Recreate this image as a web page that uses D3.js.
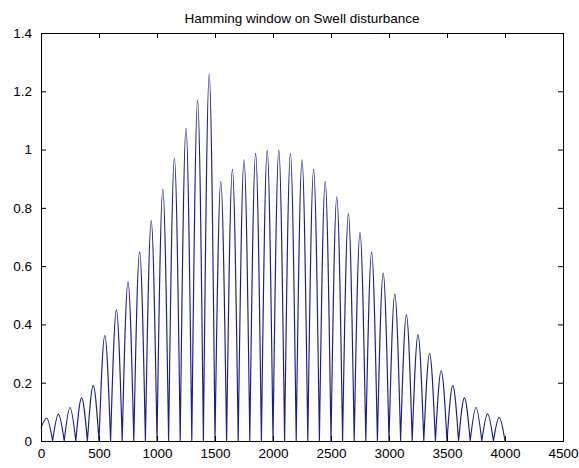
<!DOCTYPE html>
<html>
<head>
<meta charset="utf-8">
<script src="https://cdn.jsdelivr.net/npm/d3@7"></script>
<style>
  html, body { margin: 0; padding: 0; background: #ffffff; }
  svg { display: block; }
  text { font-family: "Liberation Sans", Arial, sans-serif; fill: #000; }
</style>
</head>
<body>
<svg id="chart" width="579" height="468"></svg>
<script>
// ---- data ----
const titleText = "Hamming window on Swell disturbance";
const xTicks = [0, 500, 1000, 1500, 2000, 2500, 3000, 3500, 4000, 4500];
const yTicks = [0, 0.2, 0.4, 0.6, 0.8, 1, 1.2, 1.4];
const xTickLabels = ["0", "500", "1000", "1500", "2000", "2500", "3000", "3500", "4000", "4500"];
const yTickLabels = ["0", "0.2", "0.4", "0.6", "0.8", "1", "1.2", "1.4"];

// value of the signal at sample 0
const startValue = 0.045;
// sample positions where the rectified signal touches zero (end of each arch)
const zeroPositions = [100, 200, 300, 400, 500, 600, 700, 800, 900, 1000,
  1100, 1200, 1300, 1400, 1500, 1600, 1700, 1800, 1900, 2000,
  2100, 2200, 2300, 2400, 2500, 2600, 2700, 2800, 2900, 3000,
  3100, 3200, 3300, 3400, 3500, 3600, 3700, 3800, 3900, 4000];
// sample positions of each arch top
const peakPositions = [50, 150, 250, 350, 450, 550, 650, 750, 850, 950,
  1050, 1150, 1250, 1350, 1450, 1550, 1650, 1750, 1850, 1950,
  2050, 2150, 2250, 2350, 2450, 2550, 2650, 2750, 2850, 2950,
  3050, 3150, 3250, 3350, 3450, 3550, 3650, 3750, 3850, 3950];
// height of each arch top
const peakValues = [0.078, 0.092, 0.115, 0.148, 0.190, 0.362, 0.450, 0.546, 0.649, 0.756,
  0.864, 0.971, 1.074, 1.170, 1.258, 0.890, 0.932, 0.965, 0.987, 0.998,
  0.998, 0.987, 0.965, 0.932, 0.890, 0.839, 0.780, 0.716, 0.648, 0.576,
  0.504, 0.433, 0.364, 0.300, 0.241, 0.190, 0.148, 0.115, 0.093, 0.081];

// ---- layout ----
const W = 579, H = 468;
const plot = { left: 41, right: 563, top: 33, bottom: 441 };

const svg = d3.select("#chart");

const x = d3.scaleLinear().domain([0, 4500]).range([plot.left, plot.right]);
const y = d3.scaleLinear().domain([0, 1.4]).range([plot.bottom, plot.top]);

// build arches from the arrays
const arches = peakPositions.map((px, i) => {
  const x0 = i === 0 ? 0 : zeroPositions[i - 1];
  const y0 = i === 0 ? startValue : 0;
  return [[x0, y0], [px, peakValues[i]], [zeroPositions[i], 0]];
});

const line = d3.line()
  .x(d => x(d[0]))
  .y(d => y(d[1]))
  .curve(d3.curveMonotoneX);

const pathD = arches.map(a => line(a)).join("");

svg.append("rect")
  .attr("x", 0).attr("y", 0).attr("width", W).attr("height", H)
  .attr("fill", "#ffffff");

// signal
svg.append("path")
  .attr("d", pathD)
  .attr("fill", "none")
  .attr("stroke", "#1c1c96")
  .attr("stroke-width", 1.15);

// axes (MATLAB style: ticks inward on all four sides)
const tickLen = 5;
const axB = d3.axisBottom(x).tickValues(xTicks).tickSizeInner(-tickLen).tickSizeOuter(0)
  .tickPadding(7).tickFormat((d, i) => xTickLabels[i]);
const axT = d3.axisTop(x).tickValues(xTicks).tickSizeInner(-tickLen).tickSizeOuter(0)
  .tickFormat("");
const axL = d3.axisLeft(y).tickValues(yTicks).tickSizeInner(-tickLen).tickSizeOuter(0)
  .tickPadding(9).tickFormat((d, i) => yTickLabels[i]);
const axR = d3.axisRight(y).tickValues(yTicks).tickSizeInner(-tickLen).tickSizeOuter(0)
  .tickFormat("");

function style(g) {
  g.select(".domain").remove();
  g.selectAll(".tick line").attr("stroke", "#000").attr("stroke-width", 1);
  g.selectAll(".tick text").attr("font-size", 13.5).attr("font-family", "Liberation Sans, Arial, sans-serif").attr("fill", "#000");
}

svg.append("g").attr("transform", `translate(0,${plot.bottom})`).call(axB).call(style);
svg.append("g").attr("transform", `translate(0,${plot.top})`).call(axT).call(style);
svg.append("g").attr("transform", `translate(${plot.left},0)`).call(axL).call(style);
svg.append("g").attr("transform", `translate(${plot.right},0)`).call(axR).call(style);

// frame
svg.append("rect")
  .attr("x", plot.left + 0.5).attr("y", plot.top + 0.5)
  .attr("width", plot.right - plot.left).attr("height", plot.bottom - plot.top)
  .attr("fill", "none").attr("stroke", "#000").attr("stroke-width", 1);

// title
svg.append("text")
  .attr("x", (plot.left + plot.right) / 2)
  .attr("y", 23)
  .attr("text-anchor", "middle")
  .attr("font-size", 13.5)
  .text(titleText);
</script>
</body>
</html>
